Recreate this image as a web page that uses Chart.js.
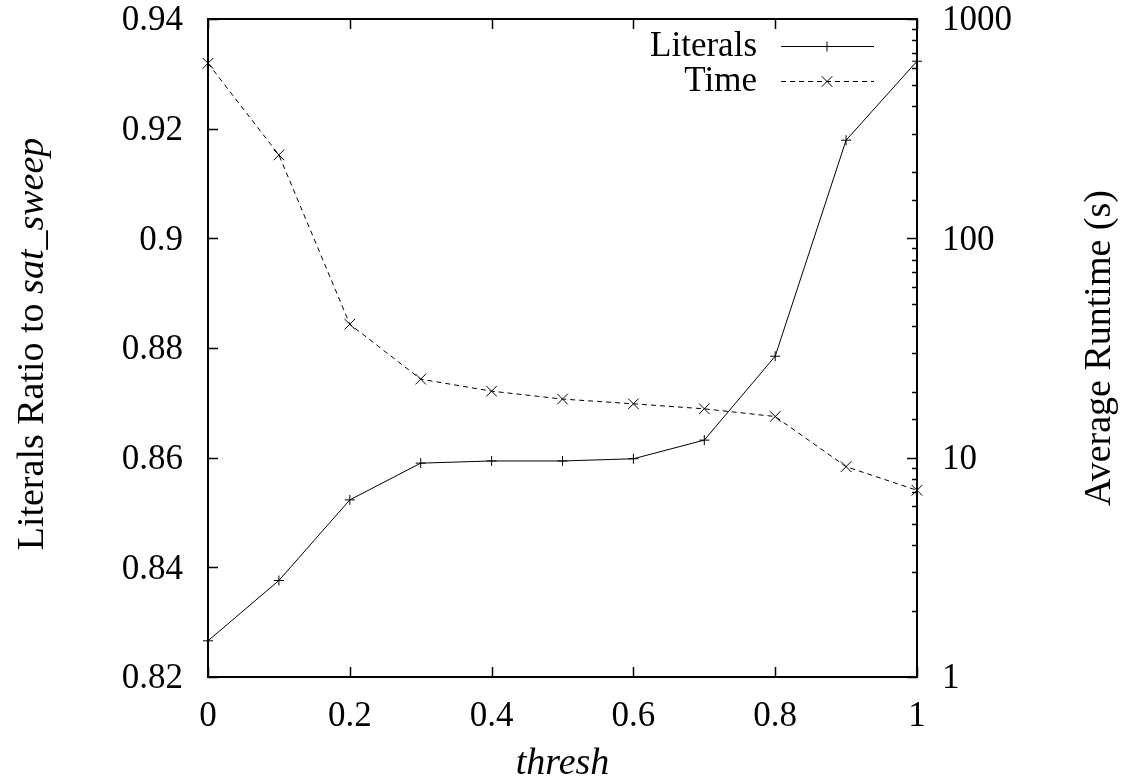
<!DOCTYPE html>
<html>
<head>
<meta charset="utf-8">
<title>Literals and Time vs thresh</title>
<script src="https://cdn.jsdelivr.net/npm/chart.js@4.4.1/dist/chart.umd.min.js"></script>
<style>
  html, body { margin: 0; padding: 0; background: #fff; }
  #wrap { width: 1131px; height: 784px; position: relative; }
</style>
</head>
<body>
<div id="wrap"><canvas id="chart"></canvas></div>
<script>
// data
const thresh = [0, 0.1, 0.2, 0.3, 0.4, 0.5, 0.6, 0.7, 0.8, 0.9, 1.0];
const literals = [0.8266, 0.8376, 0.8523, 0.8590, 0.8594, 0.8594, 0.8598, 0.8632, 0.8785, 0.9179, 0.9323];
const runtime = [628, 240, 40.6, 22.8, 20.1, 18.5, 17.6, 16.7, 15.4, 9.1, 7.1];

// tick labels
const xTicks = [0, 0.2, 0.4, 0.6, 0.8, 1];
const xLabels = ["0", "0.2", "0.4", "0.6", "0.8", "1"];
const leftTicks = [0.82, 0.84, 0.86, 0.88, 0.9, 0.92, 0.94];
const leftLabels = ["0.82", "0.84", "0.86", "0.88", "0.9", "0.92", "0.94"];
const rightTicks = [1, 10, 100, 1000];
const rightLabels = ["1", "10", "100", "1000"];

const FONT = "Liberation Serif, Times New Roman, serif";
const SIZE = 35;
const TITLE = 38;

// border, inward ticks, tick labels, titles and key, gnuplot style
const frame = {
  id: "frame",
  afterDraw(chart) {
    const ctx = chart.ctx;
    const a = chart.chartArea;
    const sx = chart.scales.x, sy = chart.scales.y, sy2 = chart.scales.y2;
    ctx.save();
    ctx.strokeStyle = "#000";
    ctx.lineWidth = 2;
    ctx.strokeRect(a.left, a.top, a.right - a.left, a.bottom - a.top);

    ctx.lineWidth = 1.5;
    ctx.beginPath();
    xTicks.forEach(v => {
      const px = Math.round(sx.getPixelForValue(v)) + 0.5;
      ctx.moveTo(px, a.bottom); ctx.lineTo(px, a.bottom - 10);
      ctx.moveTo(px, a.top); ctx.lineTo(px, a.top + 10);
    });
    leftTicks.forEach(v => {
      const py = Math.round(sy.getPixelForValue(v)) + 0.5;
      ctx.moveTo(a.left, py); ctx.lineTo(a.left + 10, py);
    });
    sy2.ticks.forEach(t => {
      const py = Math.round(sy2.getPixelForValue(t.value)) + 0.5;
      const len = rightTicks.includes(t.value) ? 10 : 5;
      ctx.moveTo(a.right, py); ctx.lineTo(a.right - len, py);
    });
    ctx.stroke();

    // tick labels
    ctx.fillStyle = "#000";
    ctx.font = SIZE + "px " + FONT;
    ctx.textBaseline = "middle";
    ctx.textAlign = "center";
    xTicks.forEach((v, i) => ctx.fillText(xLabels[i], sx.getPixelForValue(v), a.bottom + 40));
    ctx.textAlign = "right";
    leftTicks.forEach((v, i) => ctx.fillText(leftLabels[i], a.left - 25, sy.getPixelForValue(v) + 2));
    ctx.textAlign = "left";
    rightTicks.forEach((v, i) => ctx.fillText(rightLabels[i], a.right + 25, sy2.getPixelForValue(v) + 2));

    // axis titles
    ctx.textAlign = "center";
    ctx.font = "italic " + TITLE + "px " + FONT;
    ctx.fillText("thresh", (a.left + a.right) / 2, 764);

    const midY = (a.top + a.bottom) / 2;
    ctx.save();
    ctx.translate(33, midY - 4);
    ctx.rotate(-Math.PI / 2);
    ctx.font = TITLE + "px " + FONT;
    const p1 = "Literals Ratio to ";
    const w1 = ctx.measureText(p1).width;
    ctx.font = "italic " + TITLE + "px " + FONT;
    const p2 = "sat_sweep";
    const w2 = ctx.measureText(p2).width;
    ctx.textAlign = "left";
    ctx.font = TITLE + "px " + FONT;
    ctx.fillText(p1, -(w1 + w2) / 2, 0);
    ctx.font = "italic " + TITLE + "px " + FONT;
    ctx.fillText(p2, -(w1 + w2) / 2 + w1, 0);
    ctx.restore();

    ctx.save();
    ctx.translate(1100, midY);
    ctx.rotate(-Math.PI / 2);
    ctx.textAlign = "center";
    ctx.font = TITLE + "px " + FONT;
    ctx.fillText("Average Runtime (s)", 0, 0);
    ctx.restore();

    // key
    ctx.font = SIZE + "px " + FONT;
    ctx.textAlign = "right";
    const rows = [47, 82];
    chart.data.datasets.forEach((ds, i) => {
      const y = rows[i];
      ctx.fillText(ds.label, 757, y);
      ctx.lineWidth = 1;
      ctx.setLineDash(ds.borderDash || []);
      ctx.beginPath();
      ctx.moveTo(781, y - 0.5); ctx.lineTo(874, y - 0.5);
      ctx.stroke();
      ctx.setLineDash([]);
      Chart.helpers.drawPoint(ctx, {
        pointStyle: ds.pointStyle, radius: ds.pointRadius, rotation: 0, borderWidth: 1
      }, 827, y - 0.5);
    });
    ctx.restore();
  }
};

const fixSize = (prop, size) => scale => { scale[prop] = size; };

new Chart(document.getElementById("chart"), {
  type: "line",
  data: {
    datasets: [
      {
        label: "Literals",
        data: thresh.map((t, i) => ({ x: t, y: literals[i] })),
        yAxisID: "y",
        borderColor: "#000",
        borderWidth: 1,
        pointStyle: "cross",
        pointRadius: 5,
        pointBorderColor: "#000",
        pointBorderWidth: 1,
        tension: 0,
        clip: false
      },
      {
        label: "Time",
        data: thresh.map((t, i) => ({ x: t, y: runtime[i] })),
        yAxisID: "y2",
        borderColor: "#000",
        borderWidth: 1,
        borderDash: [5, 4],
        pointStyle: "crossRot",
        pointRadius: 7.5,
        pointBorderColor: "#000",
        pointBorderWidth: 1,
        tension: 0,
        clip: false
      }
    ]
  },
  options: {
    responsive: true,
    maintainAspectRatio: false,
    animation: false,
    layout: { padding: { top: 19, left: 0, right: 0, bottom: 0 } },
    plugins: { legend: { display: false }, tooltip: { enabled: false } },
    scales: {
      x: {
        type: "linear",
        min: 0, max: 1,
        afterBuildTicks: s => { s.ticks = xTicks.map(v => ({ value: v })); },
        afterFit: fixSize("height", 107),
        grid: { display: false, drawTicks: false },
        border: { display: false },
        ticks: { display: false }
      },
      y: {
        type: "linear",
        position: "left",
        min: 0.82, max: 0.94,
        afterBuildTicks: s => { s.ticks = leftTicks.map(v => ({ value: v })); },
        afterFit: fixSize("width", 208),
        grid: { display: false, drawTicks: false },
        border: { display: false },
        ticks: { display: false }
      },
      y2: {
        type: "logarithmic",
        position: "right",
        min: 1, max: 1000,
        afterFit: fixSize("width", 214),
        grid: { display: false, drawTicks: false },
        border: { display: false },
        ticks: { display: false, autoSkip: false }
      }
    }
  },
  plugins: [frame]
});
</script>
</body>
</html>
